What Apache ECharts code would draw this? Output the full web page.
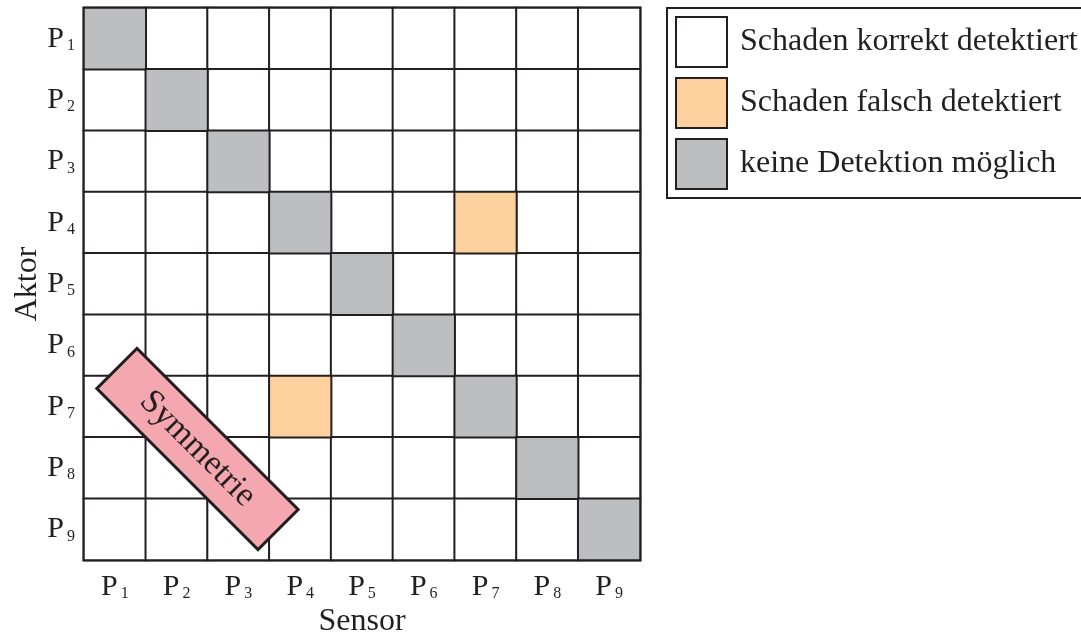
<!DOCTYPE html>
<html>
<head>
<meta charset="utf-8">
<script src="https://cdn.jsdelivr.net/npm/echarts@6/dist/echarts.min.js"></script>
<style>html,body{margin:0;padding:0;background:#fff;}#c{width:1081px;height:639px;}</style>
</head>
<body>
<div id="c"></div>
<script>
// Tick labels (subscript numbers of P)
const sensorLabels = ['1','2','3','4','5','6','7','8','9'];
const aktorLabels = ['1','2','3','4','5','6','7','8','9'];
// Status per cell: rows = Aktor P1..P9, columns = Sensor P1..P9
// 0 = Schaden korrekt detektiert, 1 = Schaden falsch detektiert, 2 = keine Detektion möglich
const statusMatrix = [
  [2,0,0,0,0,0,0,0,0],
  [0,2,0,0,0,0,0,0,0],
  [0,0,2,0,0,0,0,0,0],
  [0,0,0,2,0,0,1,0,0],
  [0,0,0,0,2,0,0,0,0],
  [0,0,0,0,0,2,0,0,0],
  [0,0,0,1,0,0,2,0,0],
  [0,0,0,0,0,0,0,2,0],
  [0,0,0,0,0,0,0,0,2]
];
const statusNames = ['Schaden korrekt detektiert','Schaden falsch detektiert','keine Detektion möglich'];
const statusColors = ['#ffffff','#fed19f','#bcbec0'];
// Annotation anchored at cell (Sensor P2, Aktor P8)
const symmetrieAnchor = [[1, 7]];

const INK = '#231f20';
const FONT = '"Liberation Serif", "Times New Roman", serif';

const series = statusNames.map((name, s) => {
  const data = [];
  statusMatrix.forEach((row, a) => row.forEach((v, c) => { if (v === s) data.push([c, a, v]); }));
  return {
    name: name,
    type: 'heatmap',
    data: data,
    itemStyle: { color: statusColors[s], borderColor: INK, borderWidth: 2 },
    emphasis: { disabled: true },
    silent: true
  };
});

series.push({
  type: 'custom',
  name: 'Symmetrie',
  data: symmetrieAnchor,
  z: 10,
  silent: true,
  renderItem: function (params, api) {
    const c = api.coord([api.value(0), api.value(1)]);
    const size = api.size([1, 1]);
    const cw = size[0], ch = size[1];
    const cx = c[0] + 0.337 * cw, cy = c[1] - 0.31 * ch;
    const bw = 3.69 * cw, bh = 0.92 * cw;
    return {
      type: 'group', x: cx, y: cy, rotation: -Math.PI / 4,
      children: [
        { type: 'rect', shape: { x: -bw / 2, y: -bh / 2, width: bw, height: bh },
          style: { fill: '#f4a7af', stroke: INK, lineWidth: 3 } },
        { type: 'text', x: 0, y: 0,
          style: { text: 'Symmetrie', fontFamily: FONT, fontSize: 34, fill: INK, align: 'center', verticalAlign: 'middle' } }
      ]
    };
  }
});

const richLabel = {
  p: { fontFamily: FONT, fontSize: 30, color: INK, lineHeight: 30 },
  s: { fontFamily: FONT, fontSize: 16, color: INK, lineHeight: 8, verticalAlign: 'bottom', padding: [0,0,0,3] }
};

const chart = echarts.init(document.getElementById('c'));
chart.setOption({
  animation: false,
  backgroundColor: '#fff',
  grid: { left: 84, top: 8, width: 556, height: 552, outerBoundsMode: 'none', containLabel: false,
          show: true, borderColor: INK, borderWidth: 3, backgroundColor: '#fff' },
  xAxis: {
    type: 'category', data: sensorLabels,
    name: 'Sensor', nameLocation: 'middle', nameGap: 46, nameMoveOverlap: false,
    nameTextStyle: { fontFamily: FONT, fontSize: 32, color: INK },
    axisLine: { show: false }, axisTick: { show: false }, splitLine: { show: false },
    axisLabel: { interval: 0, margin: 12, formatter: v => '{p|P}{s|' + v + '}', rich: richLabel }
  },
  yAxis: {
    type: 'category', data: aktorLabels, inverse: true,
    name: 'Aktor', nameLocation: 'middle', nameGap: 40, nameRotate: 90, nameMoveOverlap: false,
    nameTextStyle: { fontFamily: FONT, fontSize: 32, color: INK },
    axisLine: { show: false }, axisTick: { show: false }, splitLine: { show: false },
    axisLabel: { interval: 0, margin: 9, formatter: v => '{p|P}{s|' + v + '}', rich: richLabel }
  },
  legend: {
    orient: 'vertical', left: 667, top: 8,
    padding: [8, 30, 8, 8],
    itemWidth: 51, itemHeight: 50, itemGap: 9,
    borderColor: INK, borderWidth: 2, backgroundColor: '#fff',
    selectedMode: false,
    icon: 'rect',
    itemStyle: { borderColor: INK, borderWidth: 2 },
    textStyle: { fontFamily: FONT, fontSize: 32, color: INK, padding: [0,0,0,8] },
    data: statusNames
  },
  series: series
});
</script>
</body>
</html>
